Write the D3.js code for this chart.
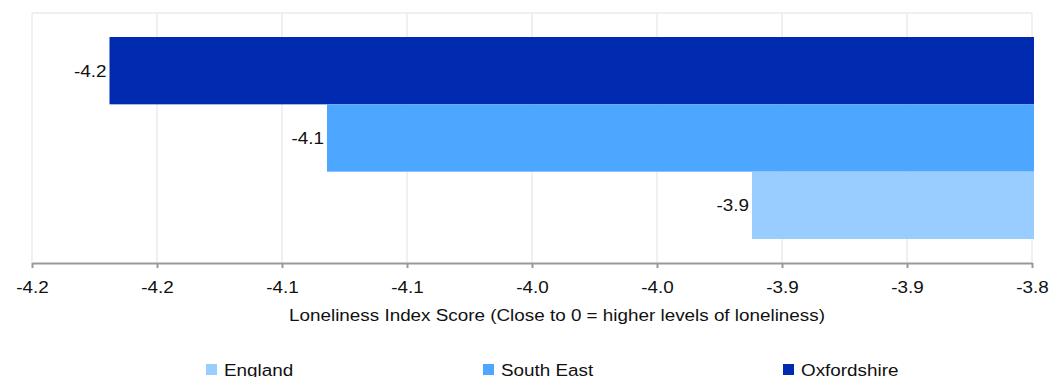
<!DOCTYPE html>
<html><head><meta charset="utf-8">
<script src="https://cdn.jsdelivr.net/npm/d3@7"></script>
<style>body{margin:0;background:#fff}svg{display:block;font-family:"Liberation Sans",Arial,sans-serif}</style>
</head><body><svg id="c" width="1059" height="377"></svg>
<script>
const categories = ["Oxfordshire", "South East", "England"];
const values = [-4.169, -4.082, -3.912];
const colors = ["#002AB0", "#4DA6FF", "#99CCFF"];
const legendOrder = ["England", "South East", "Oxfordshire"];
const tickValues = [-4.2, -4.15, -4.1, -4.05, -4.0, -3.95, -3.9, -3.85, -3.8];
const axisTitle = "Loneliness Index Score (Close to 0 = higher levels of loneliness)";

const FS = 17, SX = 1.11;
const fmt = d => (d < 0 ? "-" : "") + (Math.round(Math.abs(d) * 10 + 1e-9) / 10).toFixed(1);

const svg = d3.select("#c");
const W = 1059;
const x = d3.scaleLinear().domain([-4.2, -3.8]).range([32, 1032]);
const y = d3.scaleBand().domain(categories).range([37, 239]).padding(0);
const axisY = 263, topY = 13;

function stretchedText(sel, xf, yf, anchor, txt) {
  const g = sel.append("g").attr("transform", (d, i) => `translate(${xf(d, i)},${yf(d, i)}) scale(${SX},1)`);
  g.append("text").attr("text-anchor", anchor).attr("font-size", FS).attr("fill", "#111").text(txt);
  return g;
}

// grid
svg.append("g").selectAll("line").data(tickValues).join("line")
  .attr("x1", d => x(d)).attr("x2", d => x(d)).attr("y1", topY).attr("y2", axisY)
  .attr("stroke", "#ebebeb").attr("stroke-width", 1.5);
svg.append("line").attr("x1", x(-4.2)).attr("x2", x(-3.8)).attr("y1", topY).attr("y2", topY)
  .attr("stroke", "#ebebeb").attr("stroke-width", 1.5);

// bars
const cmap = d3.scaleOrdinal().domain(categories).range(colors);
svg.append("g").selectAll("rect").data(categories).join("rect")
  .attr("x", (d, i) => x(values[i]))
  .attr("width", (d, i) => x(-3.8) + 2 - x(values[i]))
  .attr("y", d => y(d)).attr("height", y.bandwidth())
  .attr("fill", d => cmap(d));

const lab = svg.append("g").selectAll("g").data(categories).join("g");
stretchedText(lab, (d, i) => x(values[i]) - 3, d => y(d) + y.bandwidth() / 2 + 6, "end", (d, i) => fmt(values[i]));

// axis
const ax = svg.append("g").attr("transform", `translate(0,${axisY})`)
  .call(d3.axisBottom(x).tickValues(tickValues).tickFormat(fmt).tickSize(5).tickSizeOuter(0));
ax.select(".domain").attr("stroke", "#999").attr("stroke-width", 2);
ax.selectAll(".tick line").attr("stroke", "#999").attr("stroke-width", 2);
ax.selectAll(".tick text").attr("font-size", FS).attr("fill", "#111").attr("dy", "0").attr("y", 30)
  .attr("transform", `scale(${SX},1)`).attr("font-family", '"Liberation Sans",Arial,sans-serif');

stretchedText(svg.append("g").datum(0), () => (x(-4.2) + x(-3.8)) / 2 + 25, () => 321, "middle", axisTitle);

// legend
const legX = [206, 483, 783];
const lg = svg.append("g").selectAll("g").data(legendOrder).join("g")
  .attr("transform", (d, i) => `translate(${legX[i]},364)`);
lg.append("rect").attr("width", 11).attr("height", 11).attr("fill", d => cmap(d));
lg.each(function(d) {
  stretchedText(d3.select(this), () => 18, () => 12, "start", d);
});
</script></body></html>
